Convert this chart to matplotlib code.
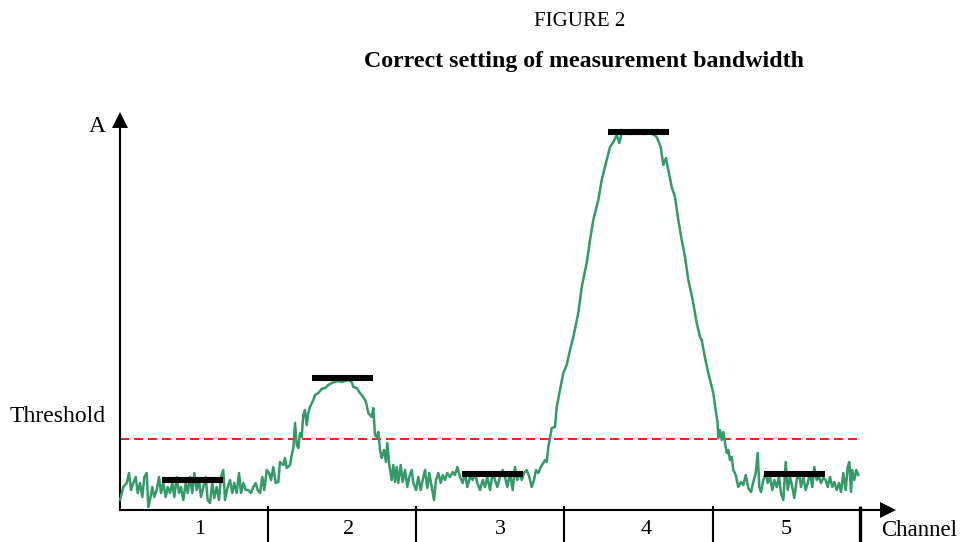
import matplotlib
matplotlib.use("Agg")
import matplotlib.pyplot as plt

# spectrum trace: (frequency bin, amplitude)
trace = [
    (0, 10), (3.3, 23), (6.7, 27), (9, 37), (11, 20), (13.3, 27), (15.7, 33), (17.7, 17), (20, 27),
    (22.3, 13), (24.3, 33), (26.7, 37), (28.3, 3), (30, 10), (32.3, 23), (34.3, 13), (36.7, 20),
    (39, 33), (41, 17), (43.3, 27), (45.7, 13), (47.7, 23), (50, 17), (52.3, 27), (54.3, 13),
    (56.7, 33), (59, 17), (61, 23), (63.3, 10), (65.7, 27), (67.7, 17), (70, 33), (72.3, 17),
    (74.3, 37), (76.7, 20), (79, 30), (81, 13), (83.3, 23), (85.7, 33), (87.7, 10), (90, 7),
    (92.3, 27), (94.3, 12), (96.7, 23), (99, 10), (101, 33), (103.3, 40), (105, 10), (107.7, 23),
    (110, 30), (112.3, 17), (114.3, 27), (116.7, 17), (119, 37), (121, 17), (123.3, 27), (125.7, 20),
    (128.3, 20), (131, 17), (133.3, 23), (135.7, 27), (137.7, 20), (140, 17), (142.3, 33), (144.3, 20),
    (146.7, 40), (149, 37), (151, 30), (153.3, 43), (155.7, 27), (158.3, 28),
    (160, 48), (163.3, 45), (165, 52), (166.7, 42), (170, 45), (171.7, 55), (173.3, 62), (175, 87),
    (176.7, 65), (178.3, 62), (180, 77), (181.7, 73), (183.3, 95), (185, 100), (186.7, 85), (188.3, 97),
    (190, 103), (193.3, 110), (195, 115), (198.3, 117), (201.7, 121), (205, 122), (208.3, 125),
    (211.7, 127), (215, 128), (218.3, 129), (221.7, 128), (225, 129), (228.3, 130), (231.7, 128),
    (233.3, 123), (236.7, 122), (240, 117), (243.3, 113), (246, 108), (248.3, 97), (251.7, 93),
    (253.3, 102), (255, 75), (256.7, 73), (258.3, 78), (260, 60), (261.7, 52), (264, 60), (266, 48),
    (267.3, 67), (269.3, 45),
    (271.7, 30), (273.3, 45), (275, 28), (276.7, 43), (278.3, 27), (280.7, 45), (282.7, 28), (285, 40),
    (287.3, 23), (289.3, 33), (291.7, 40), (293.3, 27), (296, 20), (298.3, 33), (300.7, 20), (302.7, 30),
    (305, 40), (307.3, 22), (309.3, 37), (311.7, 23), (314, 10), (316, 30), (318.3, 37), (320.7, 27),
    (322.7, 35), (325, 30), (327.3, 37), (330, 33), (332.7, 38), (335, 35), (337.3, 43), (340, 33),
    (342.7, 27), (345, 37), (347.3, 23), (350, 33), (352.7, 30), (355, 37), (357.3, 27), (360, 20),
    (362.7, 30), (365, 23), (367.3, 33), (370, 20), (372.7, 37), (375, 30), (377.3, 23), (380, 33),
    (382.7, 40), (385, 33), (387.3, 23), (390, 37), (392.7, 20), (395, 43), (397.3, 30), (399.3, 38),
    (401.7, 30), (404, 37), (406.7, 40), (409.3, 33), (411.7, 23), (414, 30), (416, 40), (418.3, 37),
    (420.7, 43), (423.3, 47), (425, 50), (426.7, 48), (428.3, 63), (430, 72),
    (431.7, 82), (435, 83), (436.7, 103), (440, 120), (443.3, 137), (446.7, 145), (450, 160),
    (453.3, 173), (458.3, 197), (461.7, 223), (466.7, 247), (470, 270), (473.3, 290), (478.3, 310),
    (481.7, 330), (486.7, 350), (490, 363), (493.3, 368), (496.7, 375), (499.3, 367), (501.7, 377),
    (505, 377), (510, 376), (515, 378), (520, 377), (525, 376), (530, 378), (536.7, 373), (540.7, 363),
    (543.3, 345), (546, 352), (548.3, 340), (551.7, 323), (555, 313), (558.3, 290), (561.7, 270),
    (565, 253), (568.3, 230), (572.7, 210), (576.7, 187), (580, 173), (581.7, 170), (585, 152),
    (588.3, 137), (593.3, 117), (596, 97), (597.5, 88), (598.3, 72),
    (600, 80), (601.7, 70), (603.3, 78), (605, 67), (606.7, 57), (608.3, 60), (610, 50), (611.7, 53),
    (613.3, 40), (615.7, 35), (618.3, 23), (621, 28), (623.3, 25), (625.7, 35), (628.3, 22), (631, 18),
    (633.3, 28), (635.7, 37), (637.7, 57), (639.3, 23), (641, 18), (643.3, 30), (645.7, 37), (647.7, 27),
    (650, 33), (652.3, 20), (654.3, 30), (656.7, 23), (659, 33), (661, 17), (663.3, 10), (665.7, 48),
    (667.7, 20), (670, 33), (672.3, 23), (674.3, 12), (676.7, 30), (679, 37), (681, 23), (683.3, 33),
    (685.7, 20), (687.7, 27), (690, 37), (692.3, 23), (694.3, 43), (696.7, 30), (699, 33), (701, 27),
    (703.3, 32), (705.7, 30), (707.7, 23), (710, 33), (712.3, 23), (714.3, 28), (716.7, 20), (719, 27),
    (721, 18), (723.3, 37), (725.7, 20), (727.7, 43), (729.3, 48), (731, 18), (732.3, 40), (734.3, 30),
    (736.3, 40), (738.3, 35),
]

# measured level per channel (black bars)
bar_start = [42, 192, 342, 488, 644]
bar_end = [103, 253, 403, 549, 705]
bar_level = [30, 132, 36, 378, 36]

threshold = 71
channel_edges = [0, 148, 296, 444, 593, 740]
channel_labels = ["1", "2", "3", "4", "5"]
label_pos = [80, 229, 380, 526, 666]

plt.rcParams["font.family"] = ["Liberation Serif", "DejaVu Serif"]

fig = plt.figure(figsize=(9.61, 5.42), dpi=100)
ax = fig.add_axes([0, 0, 1, 1])
ax.set_xlim(-120, 841)
ax.set_ylim(-32, 510)
ax.axis("off")

xs = [p[0] for p in trace]
ys = [p[1] for p in trace]
ax.plot(xs, ys, color="#349a68", lw=1.8, zorder=3)

ax.plot([0, channel_edges[-1] - 2], [threshold, threshold], color="#ff1a1a", lw=1.4,
        ls=(0, (4.6, 2.6)), zorder=2)

for s, e, lv in zip(bar_start, bar_end, bar_level):
    ax.plot([s, e], [lv, lv], color="k", lw=4.4, solid_capstyle="butt", zorder=4)

# axes with arrow heads
ax.plot([0, 0], [0, 384], color="k", lw=1.5)
ax.plot([0], [390.5], marker="^", ms=11, color="k", mew=0)
ax.plot([0, 762], [0, 0], color="k", lw=1.5)
ax.plot([767.5], [0], marker=">", ms=11, color="k", mew=0)

for i, ed in enumerate(channel_edges[1:]):
    ax.plot([ed, ed], [4, -32], color="k", lw=2.4 if i == len(channel_edges) - 2 else 1.5,
            solid_capstyle="butt")

for lab, xp in zip(channel_labels, label_pos):
    ax.text(xp, -20, lab, ha="center", va="center", fontsize=16)

ax.text(761, -20, "Channel", ha="left", va="center", fontsize=16.5)
ax.text(-23, 384, "A", ha="center", va="center", fontsize=17)
ax.text(-110, 93, "Threshold", ha="left", va="center", fontsize=17)

fig.text(580 / 961, 1 - 22 / 542, "FIGURE 2", ha="center", va="center", fontsize=15)
fig.text(584 / 961, 1 - 61 / 542, "Correct setting of measurement bandwidth", ha="center",
         va="center", fontsize=17.2, fontweight="bold")

fig.savefig("out.png", dpi=100)
